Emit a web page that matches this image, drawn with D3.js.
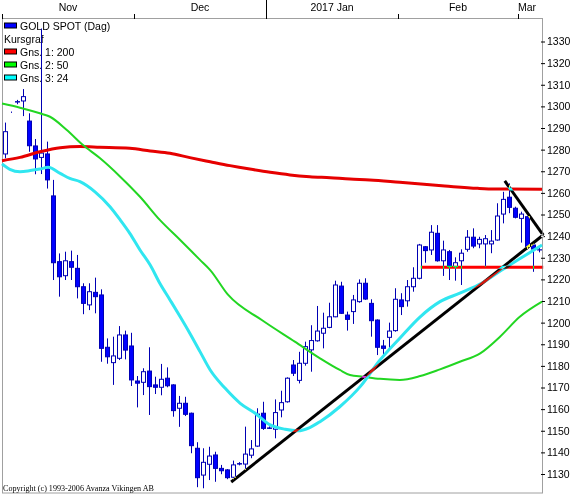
<!DOCTYPE html>
<html>
<head>
<meta charset="utf-8">
<script src="https://cdn.jsdelivr.net/npm/d3@7"></script>
<style>
body { margin: 0; background: #fff; }
svg { display: block; font-family: "Liberation Sans", Arial, sans-serif; }
</style>
</head>
<body>
<div class="chart"></div>
<script>
// GOLD SPOT, daily candles 1 Nov 2016 - 3 Mar 2017
const opens = [1278,1297.3,1302,1302.5,1293.2,1281.7,1276.4,1278,1258.6,1228.2,
  1221.7,1228.2,1225.1,1216.6,1208.2,1214,1212.8,1188.6,1181.5,1183.5,
  1194.3,1189.2,1173,1172.4,1177.6,1171.2,1170.1,1174.3,1171.2,1160.4,
  1162.7,1158.1,1141.9,1129.5,1134.5,1138.8,1132.6,1131.9,1128.5,1134.8,
  1134.6,1138.7,1142.9,1158.1,1151.3,1150.7,1159.6,1163.4,1180.4,1173.3,
  1181.2,1187.4,1191.6,1195.1,1197.8,1202.7,1216.9,1203.5,1205.1,1209.7,
  1218.2,1208.9,1201.2,1189.2,1193.2,1196.3,1210.5,1210.1,1216.6,1220.5,
  1235.1,1233.6,1241.3,1228.6,1232.8,1225.9,1228.6,1233.9,1239.5,1236.4,
  1236.4,1236.4,1238.2,1250.2,1258,1252.9,1248.2,1249,1235.9,1233.6];
const highs = [1292.5,1297.6,1303,1308,1296.8,1284.9,1336,1283.7,1266,1232,
  1232.8,1233.3,1231.3,1218.2,1218.2,1220.8,1215.4,1192.7,1193.5,1198.4,
  1196.3,1195.3,1175.3,1178.9,1188.6,1175,1180.9,1179.3,1171.5,1166.1,
  1165.7,1158.4,1144.7,1141.9,1142.6,1140.3,1134.2,1132.3,1136.2,1135.5,
  1151.9,1145.7,1160.4,1163.4,1152,1164.5,1168.5,1174.7,1182.7,1186.5,
  1191.2,1198.8,1207.7,1204.6,1209.2,1219.4,1218.9,1205.1,1212.8,1220,
  1220.5,1210.8,1201.5,1192,1200,1215.9,1213.6,1219.7,1225.6,1236.4,
  1235.4,1245.1,1245.1,1237.9,1233.6,1230.2,1233.9,1242.8,1243.6,1239.7,
  1240.5,1242.8,1255.2,1260.5,1264.4,1253.6,1251.3,1249.3,1236.5,1234.5];
const lows = [1276,1297,1301,1295.5,1279,1268.6,1268.7,1262,1219.7,1212,
  1219.7,1219.7,1211.2,1203.9,1205.8,1204.3,1181.9,1181,1171.2,1182.7,
  1183,1170.7,1160.8,1166.5,1157.3,1167,1166.4,1170.1,1156.5,1151.8,
  1156.8,1139.6,1123.9,1123.4,1127.2,1126.4,1129.9,1127.6,1127.6,1134,
  1131.9,1137.3,1142.6,1150.4,1150.8,1146.5,1156.2,1163,1175.3,1171.9,
  1180.1,1177.3,1191.2,1188.1,1197.4,1202.5,1204,1196.3,1199.4,1209.2,
  1210.5,1193.5,1185,1184,1188.1,1195.8,1203.5,1207.4,1214.3,1220,
  1227.7,1231.3,1228.2,1221.6,1219.7,1219.4,1217.4,1232.8,1234.4,1234.4,
  1225.9,1232.1,1237.9,1245.9,1250.6,1248.2,1237,1233.6,1223.5,1232.5];
const closes = [1288.3,1297.3,1302.2,1304.5,1281.8,1275.7,1278.4,1266,1227.7,1221.2,
  1228.6,1225.6,1216.6,1208.9,1214.3,1212,1188.1,1184.2,1184.6,1194.3,
  1187.3,1173.5,1172,1177.3,1170.4,1170.1,1173.8,1170.8,1159.3,1162.7,
  1157.6,1143.1,1128.3,1135.4,1138.3,1132.6,1131.5,1128.3,1134.2,1134.6,
  1139.2,1141.6,1157.7,1151.1,1151.1,1158.4,1163,1174.3,1176.6,1181.2,
  1188.9,1191.7,1196.1,1197.4,1202.7,1217.4,1204.3,1201.5,1210.5,1218.2,
  1210.9,1200.9,1188.6,1188.1,1196.1,1210.8,1207.4,1216.6,1220.5,1235.9,
  1233.3,1241.8,1228.6,1233.6,1225.9,1227.7,1232.1,1239.5,1235.4,1238.5,
  1238.8,1237.7,1249.3,1257,1253.3,1248.7,1250.2,1235.1,1234,1233.7];

// months: label and index of first trading day
const monthLabels = ["Nov", "Dec", "2017 Jan", "Feb", "Mar"];
const monthStart = [0, 22, 44, 66, 86];

const yTicks = [1130,1140,1150,1160,1170,1180,1190,1200,1210,1220,1230,
  1240,1250,1260,1270,1280,1290,1300,1310,1320,1330];

// moving averages: [day index, value]
const ma200 = [[-0.5,1274.9],[2.5,1276.4],[5.8,1279],[9.2,1280.9],[12.5,1281.4],
  [15.8,1281.1],[20.8,1280.6],[24.2,1279.4],[27.5,1278.3],[30.8,1276.3],
  [34.2,1274.4],[37.5,1272.6],[40.8,1271],[44.2,1269.5],[47.5,1268.3],
  [50.8,1267.5],[54.2,1267],[57.5,1266.4],[60.8,1266],[65.8,1264.9],
  [73.3,1263.2],[78.8,1262.1],[81.7,1261.8],[89.5,1261.7]];
const ma50 = [[-0.5,1301.3],[2.5,1299.4],[5.8,1296.8],[7.5,1295.2],[10.3,1289.1],
  [13,1282.1],[15.8,1276.1],[19.2,1267.5],[22.5,1258.2],[25.8,1247.5],
  [29.2,1238.2],[32.5,1229],[34.2,1224.3],[37.2,1212.8],[42.8,1201.2],
  [48.3,1191.2],[52.5,1183.5],[55.8,1178.1],[57.5,1175.8],[59.7,1175],
  [62.5,1174],[65.8,1173.5],[69.2,1175.3],[72.5,1178.4],[75.8,1181.9],
  [79.2,1185.8],[82.5,1193.5],[85.8,1202.7],[89.5,1209.7]];
const ma24 = [[-0.5,1273.4],[0.8,1270.9],[2.5,1269.8],[4.2,1270.3],[5.8,1271],
  [7.2,1271.8],[9.2,1269],[10.8,1266.7],[12.5,1265.2],[15,1260.5],
  [17.5,1253.6],[19.2,1247.5],[20.8,1241.3],[22.5,1233.6],[24.2,1226.6],
  [25.8,1218.2],[27.5,1210.5],[29.2,1202.7],[30.8,1195.1],[32.5,1186.6],
  [34.2,1178.1],[36.7,1169.6],[39.2,1162.7],[41.7,1158.1],[44.2,1152.7],
  [46.7,1150.7],[48.8,1150],[50.8,1151.5],[52.5,1154.2],[55.8,1161.1],
  [59.2,1170.4],[62.5,1182.7],[65.8,1192.8],[69.2,1202.7],[72.5,1209.7],
  [75.8,1213.6],[79.5,1218.3],[82.8,1224.3],[86.2,1230.2],[89.5,1235.9]];

// drawn trend lines: [[day, price], [day, price]]
const trendUp = [[37.7,1126.3],[89.7,1240.5]];
const trendDown = [[83.3,1265.5],[89.7,1240.5]];
const support = [[69.3,1225.6],[89.7,1225.6]];

const legendItems = ["GOLD SPOT (Dag)", "Kursgraf", "Gns. 1: 200", "Gns. 2: 50", "Gns. 3: 24"];
const legendColors = ["#0000ff", null, "#ff0000", "#00ff00", "#00ffff"];

const width = 578, height = 495;
const plot = {left: 2.5, top: 18.5, right: 542.5, bottom: 493};

const svg = d3.select(".chart").append("svg")
    .attr("width", width)
    .attr("height", height);

svg.append("rect").attr("width", width).attr("height", height).attr("fill", "#fff");

const x = d3.scaleLinear().domain([-0.5, 89.5]).range([2, 542]);
const y = d3.scaleLinear().domain([1130, 1330]).range([474, 41.5]);

// frame
svg.append("rect")
    .attr("x", plot.left).attr("y", plot.top)
    .attr("width", plot.right - plot.left).attr("height", plot.bottom - plot.top)
    .attr("fill", "none").attr("stroke", "#a0a0a0");

// right price axis
const yAxis = d3.axisRight(y).tickValues(yTicks).tickFormat(d3.format("d"))
    .tickSize(4).tickPadding(2);
svg.append("g")
    .attr("transform", "translate(541,0)")
    .call(yAxis)
    .call(g => g.select(".domain").remove())
    .call(g => g.selectAll("text").attr("font-size", "10.5px")
        .attr("font-family", "Liberation Sans, Arial, sans-serif").attr("fill", "#000"));

// top month axis
const monthAxis = svg.append("g");
monthStart.forEach((s, k) => {
    const tx = Math.round(x(s - 0.5)) + 0.5;
    const isYear = monthLabels[k].indexOf("2017") >= 0;
    monthAxis.append("line")
        .attr("x1", tx).attr("x2", tx)
        .attr("y1", isYear ? 0 : 14).attr("y2", 19)
        .attr("stroke", "#000");
    const next = k + 1 < monthStart.length ? monthStart[k + 1] : opens.length;
    const last = k + 1 >= monthStart.length;
    monthAxis.append("text")
        .attr("x", last ? x(s - 0.5) : (x(s - 0.5) + x(next - 0.5)) / 2)
        .attr("y", 11)
        .attr("text-anchor", last ? "start" : "middle")
        .attr("font-size", "10.5px")
        .text(monthLabels[k]);
});

// legend
const legend = svg.append("g");
legendItems.forEach((t, k) => {
    const by = 29.5 + 13 * k;
    if (legendColors[k]) {
        legend.append("rect")
            .attr("x", 4.5).attr("y", by - 6.5)
            .attr("width", 12).attr("height", 5)
            .attr("fill", legendColors[k]).attr("stroke", "#000");
    }
    legend.append("text")
        .attr("x", legendColors[k] ? 20 : 4).attr("y", by)
        .attr("font-size", "10.5px")
        .text(t);
});

// candles
const idx = d3.range(opens.length);
const candle = svg.append("g").selectAll("g").data(idx).join("g");

candle.append("line")
    .attr("x1", i => Math.round(x(i)) + 0.5)
    .attr("x2", i => Math.round(x(i)) + 0.5)
    .attr("y1", i => y(highs[i]))
    .attr("y2", i => y(lows[i]))
    .attr("stroke", "#0000b4");

candle.append("rect")
    .attr("x", i => Math.round(x(i)) - 1.5)
    .attr("width", 4)
    .attr("y", i => y(Math.max(opens[i], closes[i])))
    .attr("height", i => Math.abs(y(opens[i]) - y(closes[i])))
    .attr("fill", i => closes[i] < opens[i] ? "#0000ff" : "#fff")
    .attr("stroke", "#0000b4");

// moving averages
const maLine = d3.line()
    .x(d => x(d[0]))
    .y(d => y(d[1]))
    .curve(d3.curveMonotoneX);

svg.append("path").datum(ma200).attr("d", maLine)
    .attr("fill", "none").attr("stroke", "#e60000").attr("stroke-width", 3);
svg.append("path").datum(ma50).attr("d", maLine)
    .attr("fill", "none").attr("stroke", "#22d622").attr("stroke-width", 2);
svg.append("path").datum(ma24).attr("d", maLine)
    .attr("fill", "none").attr("stroke", "#30e6f0").attr("stroke-width", 3);

// hand drawn lines, xor-like pen
const straight = d3.line().x(d => x(d[0])).y(d => y(d[1]));
svg.append("path").datum(support).attr("d", straight)
    .attr("stroke", "#00ffff").attr("stroke-width", 3)
    .style("mix-blend-mode", "difference");
[trendUp, trendDown].forEach(t => {
    svg.append("path").datum(t).attr("d", straight)
        .attr("stroke", "#fff").attr("stroke-width", 3)
        .style("mix-blend-mode", "difference");
});

// copyright
svg.append("text")
    .attr("x", 3).attr("y", 490.5)
    .attr("font-family", "Liberation Serif, Times New Roman, serif")
    .attr("font-size", "9px")
    .attr("textLength", 151)
    .attr("lengthAdjust", "spacingAndGlyphs")
    .text("Copyright (c) 1993-2006 Avanza Vikingen AB");
</script>
</body>
</html>
